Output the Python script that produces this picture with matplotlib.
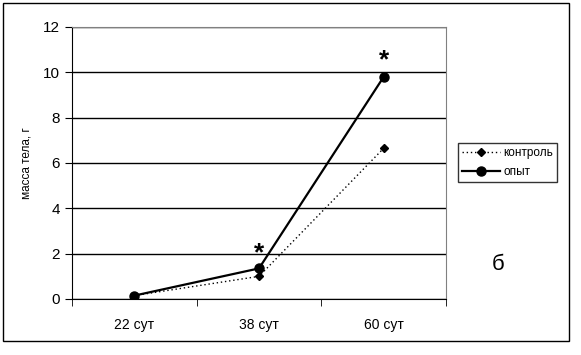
import matplotlib.pyplot as plt
from matplotlib.patches import Rectangle

plt.rcParams['font.family'] = ['Liberation Sans', 'DejaVu Sans']

days = ['22 сут', '38 сут', '60 сут']
control = [0.15, 1.0, 6.65]
experiment = [0.15, 1.35, 9.8]
star_days = [1, 2]
star_levels = [2.0, 10.55]

W, H = 581, 355
fig = plt.figure(figsize=(W / 100, H / 100), dpi=100)
ax = fig.add_axes([72 / W, 1 - 299 / H, (446 - 72) / W, (299 - 27) / H])

x = range(len(days))
ax.plot(x, control, color='black', linestyle=(0, (1, 2)), linewidth=1,
        marker='D', markersize=4, label='контроль')
ax.plot(x, experiment, color='black', linestyle='-', linewidth=1.6,
        marker='o', markersize=6.5, label='опыт')
for d, lev in zip(star_days, star_levels):
    ax.text(d, lev, '*', ha='center', va='center', fontsize=19,
            fontweight='bold')

ax.set_xlim(-0.5, 2.5)
ax.set_ylim(0, 12)
ax.set_yticks(range(0, 13, 2))
ax.set_xticks(x)
ax.set_xticklabels(days, fontsize=10)
ax.set_xticks([-0.5, 0.5, 1.5, 2.5], minor=True)
ax.tick_params(axis='x', which='major', length=0, pad=14)
ax.tick_params(axis='x', which='minor', length=5, direction='out')
ax.tick_params(axis='y', labelsize=11, length=5, direction='out')
ax.yaxis.grid(True, color='black', linewidth=1)
ax.set_axisbelow(True)
for s in ['top', 'right']:
    ax.spines[s].set_color('#808080')
ax.set_ylabel('масса тела, г', fontsize=8.5, labelpad=8)

leg = ax.legend(loc='upper left', bbox_to_anchor=(458 / W, 1 - 143 / H),
                bbox_transform=fig.transFigure, fontsize=8.5, frameon=True,
                fancybox=False, edgecolor='black', handlelength=3.2,
                borderpad=0.35, borderaxespad=0, handletextpad=0.3,
                labelspacing=0.6)
leg.get_frame().set_linewidth(1)

fig.text(498 / W, 1 - 265 / H, 'б', fontsize=16, ha='center', va='center')
fig.patches.append(Rectangle((3 / W, 1 - 341 / H), 566 / W, 338 / H,
                             transform=fig.transFigure, fill=False,
                             edgecolor='black', linewidth=1))

fig.savefig('out.png', dpi=100)
